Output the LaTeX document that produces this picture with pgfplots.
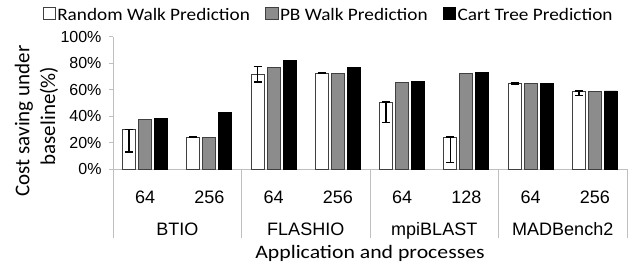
\documentclass[border=0pt]{standalone}
\usepackage{fontspec}
\setmainfont{Carlito}
\newfontfamily\arial{Liberation Sans}
\usepackage{graphicx}
\usepackage{pgfplots}
\pgfplotsset{compat=1.18}
\definecolor{axgray}{HTML}{BFBFBF}
\definecolor{bargray}{HTML}{8C8C8C}
\definecolor{edge}{HTML}{404040}
\newcommand{\legtxt}[1]{\scalebox{1.10}[1]{#1}}
\begin{document}
\begin{tikzpicture}[x=1bp,y=1bp]
\useasboundingbox (0,0) rectangle (642,267);
\begin{axis}[
  at={(113bp,97.7bp)}, anchor=south west,
  scale only axis, width=514bp, height=132.6bp,
  xmin=-0.5, xmax=7.5, ymin=0, ymax=100,
  enlarge x limits=false, enlarge y limits=false,
  axis x line=bottom, axis y line=left,
  axis line style={axgray, line width=0.8bp, -},
  ytick={0,20,40,60,80,100},
  yticklabels={0\%,20\%,40\%,60\%,80\%,100\%},
  yticklabel style={font=\arial\fontsize{16bp}{19bp}\selectfont, anchor=east, xshift=-4bp},
  tick align=outside, major tick length=4bp,
  y tick style={axgray, line width=0.8bp},
  xtick={0,1,2,3,4,5,6,7},
  xticklabels={64,256,64,256,64,128,64,256},
  x tick style={draw=none},
  xticklabel style={font=\arial\fontsize{18bp}{21bp}\selectfont, anchor=base, yshift=-30bp},
  ybar=3bp, bar width=13bp,
  clip=false,
  legend columns=3,
  legend image code/.code={\draw[#1, line width=0.8bp] (0bp,-4.5bp) rectangle (12.3bp,7.8bp);},
  legend style={at={(-0.1368,1.163)}, anchor=west, draw=none, fill=none,
    inner sep=0pt, outer sep=0pt,
    font=\fontsize{17.5bp}{20bp}\selectfont,
    nodes={inner sep=1.5bp},
    /tikz/every even column/.append style={column sep=14bp}},
  error bars/error bar style={black, line width=1.5bp},
  error bars/error mark options={black, line width=1.5bp, mark size=4bp, rotate=90},
]
\addplot[fill=white, draw=edge, line width=0.8bp,
  error bars/.cd, y dir=both, y explicit]
  coordinates {
  (0,30.2) += (0,0) -= (0,17.2)
  (1,24.4) += (0,0.5) -= (0,0.5)
  (2,71.2) += (0,6.2) -= (0,5.3)
  (3,72.6) += (0,0.4) -= (0,0.4)
  (4,50.8) += (0,0) -= (0,15.6)
  (5,24.4) += (0,0) -= (0,19.4)
  (6,64.6) += (0,0.4) -= (0,0.4)
  (7,58.6) += (0,0.5) -= (0,3)
  };
\addplot[fill=bargray, draw=edge, line width=0.8bp]
  coordinates {(0,37.7) (1,24.2) (2,76.7) (3,72.2) (4,65.7) (5,72.2) (6,64.6) (7,58.8)};
\addplot[fill=black, draw=black, line width=0.8bp]
  coordinates {(0,38.2) (1,42.7) (2,82.3) (3,76.9) (4,66.1) (5,73.2) (6,64.9) (7,59.1)};
\legend{\legtxt{Random Walk Prediction}, \legtxt{PB Walk Prediction}, \legtxt{Cart Tree Prediction}}
\draw[axgray, line width=0.8bp] (axis cs:-0.5,0) -- ([yshift=-69bp]axis cs:-0.5,0);
\draw[axgray, line width=0.8bp] (axis cs:1.5,0) -- ([yshift=-69bp]axis cs:1.5,0);
\draw[axgray, line width=0.8bp] (axis cs:3.5,0) -- ([yshift=-69bp]axis cs:3.5,0);
\draw[axgray, line width=0.8bp] (axis cs:5.5,0) -- ([yshift=-69bp]axis cs:5.5,0);
\draw[axgray, line width=0.8bp] (axis cs:7.5,0) -- ([yshift=-69bp]axis cs:7.5,0);
\node[anchor=base, font=\arial\fontsize{18bp}{21bp}\selectfont, inner sep=0pt] at (axis cs:0.5,0) [yshift=-65.7bp] {BTIO};
\node[anchor=base, font=\arial\fontsize{18bp}{21bp}\selectfont, inner sep=0pt] at (axis cs:2.5,0) [yshift=-65.7bp] {FLASHIO};
\node[anchor=base, font=\arial\fontsize{18bp}{21bp}\selectfont, inner sep=0pt] at (axis cs:4.5,0) [yshift=-65.7bp] {mpiBLAST};
\node[anchor=base, font=\arial\fontsize{18bp}{21bp}\selectfont, inner sep=0pt] at (axis cs:6.5,0) [yshift=-65.7bp] {MADBench2};
\node[anchor=base, font=\fontsize{19bp}{22bp}\selectfont, inner sep=0pt] at (axis cs:3.5,0) [yshift=-88.7bp] {\scalebox{1.145}[1]{Application and processes}};
\end{axis}
\node[rotate=90, anchor=base, font=\fontsize{21bp}{25bp}\selectfont, inner sep=0pt] at (29.3,146) {Cost saving under};
\node[rotate=90, anchor=base, font=\fontsize{21bp}{25bp}\selectfont, inner sep=0pt] at (55,151) {baseline(\%)};
\end{tikzpicture}
\end{document}
